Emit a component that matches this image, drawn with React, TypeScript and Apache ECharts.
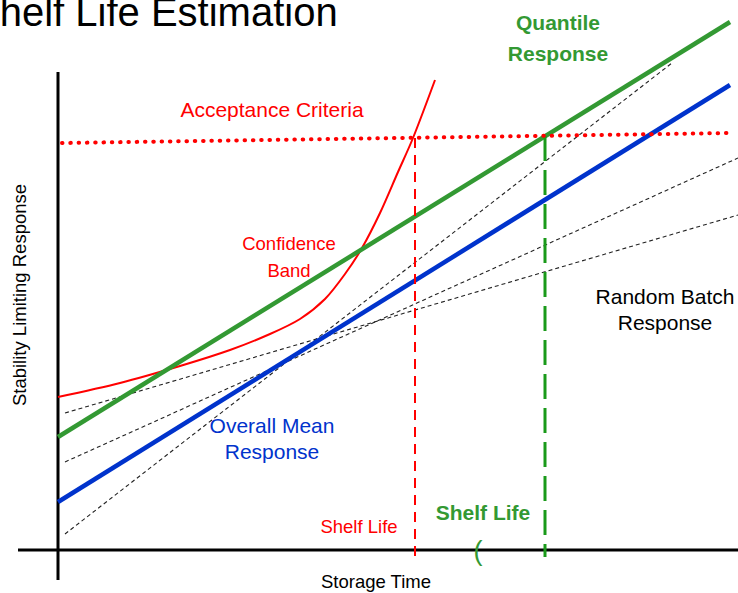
import React, { useEffect, useRef } from "react";
import * as echarts from "echarts";

// Coordinates: time (horizontal) and response (vertical), origin at the axes' crossing
const xAxisLine: number[][] = [[-40, 0], [680, 0]];
const yAxisLine: number[][] = [[0, 478], [0, -30]];

const overallMean: number[][] = [[0, 48], [672, 465]];
const quantileResponse: number[][] = [[0, 113], [672, 528]];
const acceptanceCriteria: number[][] = [[4, 407], [672, 417]];

const confidenceBand: number[][] = [
  [0, 153], [62, 167], [122, 184], [172, 200], [212, 216], [242, 231],
  [267, 251], [287, 276], [304, 302], [322, 337], [340, 378], [355, 412], [377, 470],
];

const batchA: number[][] = [[7, 16], [614, 487]];
const batchB: number[][] = [[7, 88], [680, 392]];
const batchC: number[][] = [[7, 137], [680, 335]];

const confidenceShelfLife = 357;
const quantileShelfLife = 487;
const shelfLifeTop = [412, 414];
const shelfLifeBottom = -7;

const RED = "#ff0000";
const GREEN = "#339933";
const BLUE = "#0033cc";
const FONT = "'Liberation Sans', Arial, Helvetica, sans-serif";

function lineSeries(data: number[][], style: any, z = 2) {
  return {
    type: "line",
    data,
    showSymbol: false,
    symbol: "none",
    silent: true,
    z,
    lineStyle: style,
  };
}

function txt(text: string, x: number, y: number, size: number, color: string, extra: any = {}) {
  return {
    type: "text",
    x,
    y,
    silent: true,
    z: 10,
    rotation: extra.rotation || 0,
    style: {
      text,
      fill: color,
      fontSize: size,
      fontFamily: FONT,
      fontWeight: extra.bold ? "bold" : "normal",
      align: extra.align || "center",
      verticalAlign: "middle",
      lineHeight: extra.lineHeight || size * 1.3,
    },
  };
}

export default function App() {
  const ref = useRef<HTMLDivElement>(null);
  useEffect(() => {
    if (!ref.current) return;
    const chart = echarts.init(ref.current, undefined, { renderer: "svg" });
    const option: any = {
      animation: false,
      backgroundColor: "#ffffff",
      grid: { left: 0, right: 0, top: 0, bottom: 0 },
      xAxis: { type: "value", min: -58, max: 680, show: false },
      yAxis: { type: "value", min: -43, max: 550, show: false },
      series: [
        lineSeries(xAxisLine, { color: "#000", width: 3 }, 1),
        lineSeries(yAxisLine, { color: "#000", width: 3 }, 1),
        lineSeries(batchA, { color: "#222", width: 1.1, type: [4, 3] }, 2),
        lineSeries(batchB, { color: "#222", width: 1.1, type: [4, 3] }, 2),
        lineSeries(batchC, { color: "#222", width: 1.1, type: [4, 3] }, 2),
        { ...lineSeries(confidenceBand, { color: RED, width: 2 }, 3), smooth: 0.3 },
        lineSeries(quantileResponse, { color: GREEN, width: 4.5 }, 4),
        lineSeries(overallMean, { color: BLUE, width: 4.5 }, 4),
        lineSeries(
          [[confidenceShelfLife, shelfLifeTop[0]], [confidenceShelfLife, shelfLifeBottom]],
          { color: RED, width: 2, type: [10, 7] },
          5
        ),
        lineSeries(
          [[quantileShelfLife, shelfLifeTop[1]], [quantileShelfLife, shelfLifeBottom]],
          { color: "#1a9a1a", width: 3, type: [25, 9] },
          5
        ),
        lineSeries(acceptanceCriteria, { color: RED, width: 4, type: [0.5, 7.8], cap: "round" }, 6),
      ],
      graphic: [
        txt("Shelf Life Estimation", -27, 12, 40, "#000", { align: "left" }),
        txt("Quantile\nResponse", 558, 38, 21, GREEN, { bold: true, lineHeight: 31 }),
        txt("Acceptance Criteria", 272, 109, 21, RED),
        txt("Confidence\nBand", 289, 257, 18.5, RED, { lineHeight: 27 }),
        txt("Overall Mean\nResponse", 272, 438, 21, BLUE, { lineHeight: 26 }),
        txt("Random Batch\nResponse", 665, 309, 21, "#000", { lineHeight: 26 }),
        txt("Shelf Life", 359, 526, 18.5, RED),
        txt("Shelf Life", 483, 512, 21, GREEN, { bold: true }),
        txt("(", 478, 551, 27, GREEN),
        txt("Storage Time", 376, 581, 18.5, "#000"),
        txt("Stability Limiting Response", 19, 295, 18.5, "#000", { rotation: Math.PI / 2 }),
      ],
    };
    chart.setOption(option);
    return () => chart.dispose();
  }, []);
  return (
    <div
      ref={ref}
      style={{ position: "fixed", left: 0, top: 0, width: 738, height: 593, background: "#fff" }}
    />
  );
}
